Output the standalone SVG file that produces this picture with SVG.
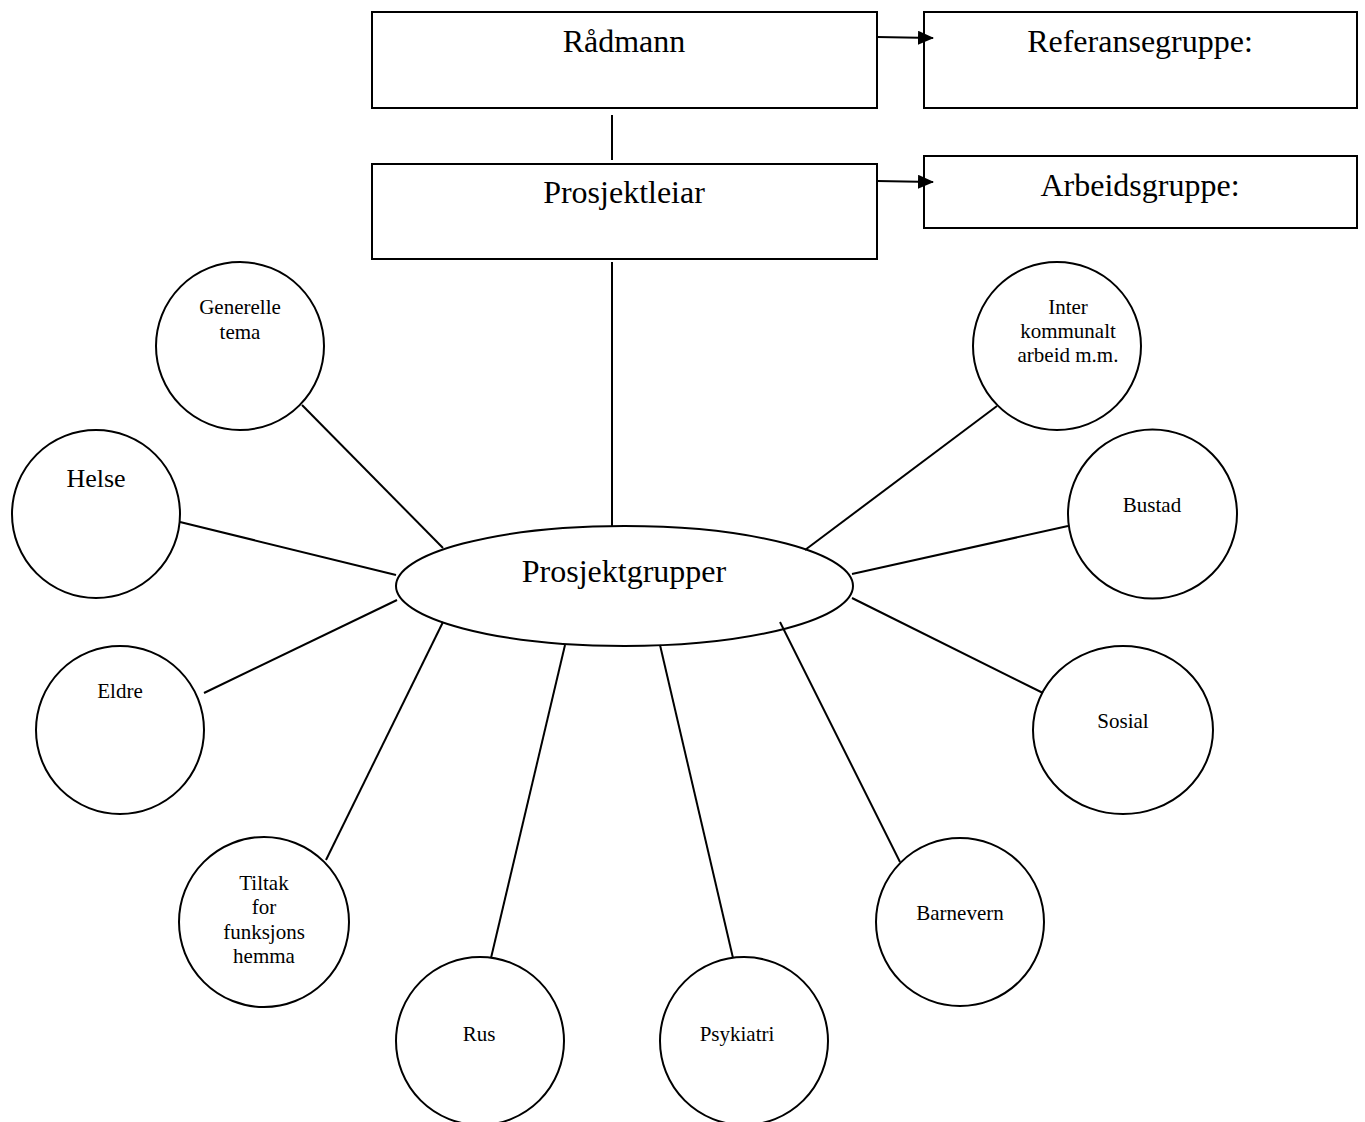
<svg xmlns="http://www.w3.org/2000/svg" width="1365" height="1122" viewBox="0 0 1365 1122">
<style>
.shape{fill:#fff;stroke:#000;stroke-width:2}
.ln{stroke:#000;stroke-width:2;fill:none}
text{font-family:"Liberation Serif","Times New Roman",serif;fill:#000;text-anchor:middle}
.big{font-size:32px}
.mid{font-size:26px}
.sm{font-size:21px}
</style>
<defs>
<marker id="arr" viewBox="0 0 16 14" refX="15" refY="7" markerWidth="16" markerHeight="14" markerUnits="userSpaceOnUse" orient="auto">
<path d="M0,0 L16,7 L0,14 Z" fill="#000"/>
</marker>
</defs>
<rect width="1365" height="1122" fill="#fff"/>
<g id="radmann"><rect class="shape" x="372" y="12" width="505" height="96"/><text class="big" x="624" y="52">Rådmann</text></g>
<g id="referansegruppe"><rect class="shape" x="924" y="12" width="433" height="96"/><text class="big" x="1140" y="52">Referansegruppe:</text></g>
<g id="prosjektleiar"><rect class="shape" x="372" y="164" width="505" height="95"/><text class="big" x="624" y="203">Prosjektleiar</text></g>
<g id="arbeidsgruppe"><rect class="shape" x="924" y="156" width="433" height="72"/><text class="big" x="1140" y="196">Arbeidsgruppe:</text></g>
<g id="prosjektgrupper"><ellipse class="shape" cx="624.5" cy="586" rx="228.5" ry="60"/><text class="big" x="624" y="582">Prosjektgrupper</text></g>
<g id="generelle"><circle class="shape" cx="240" cy="346" r="84"/><text class="sm" x="240" y="314">Generelle</text><text class="sm" x="240" y="339">tema</text></g>
<g id="helse"><circle class="shape" cx="96" cy="514" r="84"/><text class="mid" x="96" y="487">Helse</text></g>
<g id="eldre"><circle class="shape" cx="120" cy="730" r="84"/><text class="sm" x="120" y="698">Eldre</text></g>
<g id="tiltak"><circle class="shape" cx="264" cy="922" r="85"/><text class="sm" x="264" y="890">Tiltak</text><text class="sm" x="264" y="914">for</text><text class="sm" x="264" y="939">funksjons</text><text class="sm" x="264" y="963">hemma</text></g>
<g id="rus"><circle class="shape" cx="480" cy="1041" r="84"/><text class="sm" x="479" y="1041">Rus</text></g>
<g id="psykiatri"><circle class="shape" cx="744" cy="1041" r="84"/><text class="sm" x="737" y="1041">Psykiatri</text></g>
<g id="barnevern"><circle class="shape" cx="960" cy="922" r="84"/><text class="sm" x="960" y="920">Barnevern</text></g>
<g id="sosial"><ellipse class="shape" cx="1123" cy="730" rx="90" ry="84"/><text class="sm" x="1123" y="728">Sosial</text></g>
<g id="bustad"><circle class="shape" cx="1152.5" cy="514" r="84.5"/><text class="sm" x="1152" y="512">Bustad</text></g>
<g id="inter"><circle class="shape" cx="1057" cy="346" r="84"/><text class="sm" x="1068" y="314">Inter</text><text class="sm" x="1068" y="338">kommunalt</text><text class="sm" x="1068" y="362">arbeid m.m.</text></g>
<g id="connectors">
<line class="ln" x1="877" y1="37" x2="933" y2="38" marker-end="url(#arr)"/>
<line class="ln" x1="877" y1="181" x2="933" y2="182" marker-end="url(#arr)"/>
<line class="ln" x1="612" y1="115" x2="612" y2="160"/>
<line class="ln" x1="612" y1="262" x2="612" y2="526"/>
<line class="ln" x1="302" y1="405" x2="443" y2="548"/>
<line class="ln" x1="180" y1="522" x2="396" y2="575"/>
<line class="ln" x1="204" y1="693" x2="397" y2="600"/>
<line class="ln" x1="326" y1="860" x2="443" y2="622"/>
<line class="ln" x1="491" y1="958" x2="565" y2="645"/>
<line class="ln" x1="733" y1="958" x2="660" y2="645"/>
<line class="ln" x1="900" y1="862" x2="780" y2="622"/>
<line class="ln" x1="1043" y1="693" x2="852" y2="598"/>
<line class="ln" x1="1068" y1="526" x2="852" y2="574"/>
<line class="ln" x1="997" y1="406" x2="805" y2="550"/>
</g>
</svg>
